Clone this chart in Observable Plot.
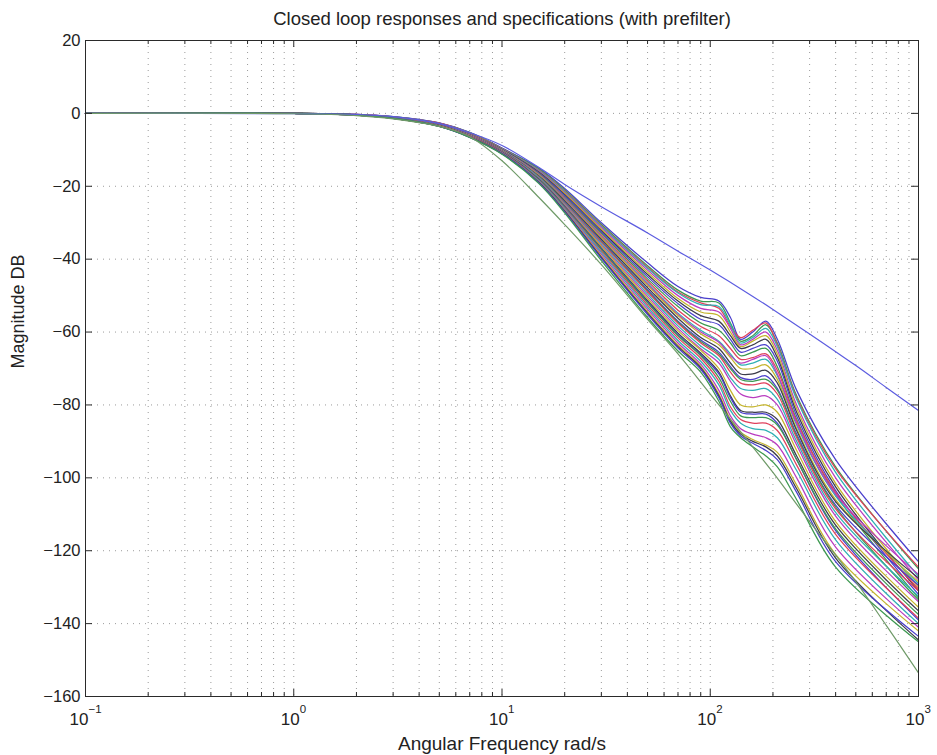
<!DOCTYPE html>
<html><head><meta charset="utf-8">
<script src="https://cdn.jsdelivr.net/npm/d3@7"></script>
<script src="https://cdn.jsdelivr.net/npm/@observablehq/plot@0.6"></script>
<style>body{margin:0;background:#fff;} #chart{width:937px;height:755px;}</style>
</head><body><div id="chart"></div>
<script>
// ---------- data ----------
const freq = [0.1, 1, 2, 3, 5, 7, 10, 15, 20, 30, 50, 70, 90, 110, 125, 140, 160, 185, 210, 260, 400, 1000];

// closed-loop responses (dB) at freq
const r01 = [0, 0, -0.3, -0.9, -2.6, -5.2, -9.5, -15.0, -20.6, -30.0, -41.0, -47.5, -50.5, -51.5, -56.0, -62.0, -60.0, -57.0, -62.0, -76.0, -95.0, -123.0];
const r02 = [0, 0, -0.3, -0.9, -2.7, -5.3, -9.6, -15.2, -21.0, -30.5, -41.8, -48.5, -51.5, -52.0, -57.5, -62.5, -61.0, -58.0, -63.0, -77.5, -97.0, -125.0];
const r03 = [0, 0, -0.3, -1.0, -2.7, -5.4, -9.7, -15.5, -21.3, -30.8, -42.2, -49.0, -52.0, -53.5, -58.5, -61.5, -59.5, -57.5, -63.5, -78.0, -97.5, -124.5];
const r04 = [0, 0, -0.3, -1.0, -2.8, -5.4, -9.8, -15.6, -21.5, -31.0, -42.5, -49.3, -52.5, -53.0, -58.0, -63.0, -61.5, -59.0, -64.0, -78.5, -98.5, -127.0];
const r05 = [0, 0, -0.3, -1.0, -2.8, -5.5, -9.8, -15.8, -21.8, -31.4, -43.0, -50.0, -53.5, -54.5, -59.0, -63.5, -62.0, -60.0, -65.0, -80.0, -100.0, -128.0];
const r06 = [0, 0, -0.4, -1.0, -2.9, -5.5, -9.9, -16.0, -22.0, -31.8, -43.6, -50.8, -54.5, -55.5, -60.0, -64.0, -62.5, -61.0, -66.0, -81.0, -101.5, -130.0];
const r07 = [0, 0, -0.4, -1.0, -2.9, -5.6, -9.9, -16.1, -22.3, -32.2, -44.2, -51.5, -55.5, -57.0, -61.0, -64.5, -63.5, -62.0, -67.0, -82.0, -102.5, -131.0];
const r08 = [0, 0, -0.4, -1.1, -2.9, -5.6, -10.0, -16.3, -22.6, -32.6, -44.8, -52.2, -56.5, -58.0, -62.0, -65.5, -64.5, -63.5, -68.0, -83.0, -103.5, -132.0];
const r09 = [0, 0, -0.4, -1.1, -3.0, -5.7, -10.0, -16.5, -23.0, -33.0, -45.4, -53.0, -57.5, -59.5, -63.0, -66.5, -65.5, -64.5, -69.5, -84.0, -104.5, -133.0];
const r10 = [0, 0, -0.4, -1.1, -3.0, -5.7, -10.1, -16.6, -23.2, -33.4, -46.0, -54.0, -58.5, -61.0, -64.5, -67.5, -67.0, -66.0, -70.5, -84.5, -104.0, -130.5];
const r11 = [0, 0, -0.4, -1.1, -3.0, -5.8, -10.1, -16.8, -23.4, -33.8, -46.6, -54.8, -59.5, -62.5, -66.0, -69.0, -68.5, -67.5, -72.0, -85.5, -105.0, -129.0];
const r12 = [0, 0, -0.4, -1.1, -3.0, -5.8, -10.2, -16.9, -23.6, -34.0, -46.9, -55.2, -60.0, -62.8, -66.5, -68.5, -67.5, -66.5, -71.5, -85.0, -104.5, -126.5];
const r13 = [0, 0, -0.4, -1.1, -3.1, -5.8, -10.2, -17.0, -23.8, -34.2, -47.2, -55.5, -60.5, -63.5, -67.0, -70.0, -70.0, -69.0, -73.0, -86.5, -106.0, -128.5];
const r14 = [0, 0, -0.4, -1.2, -3.1, -5.9, -10.3, -17.2, -24.0, -34.6, -47.8, -56.2, -61.5, -64.5, -68.5, -71.5, -71.5, -70.5, -74.0, -87.0, -106.5, -127.5];
const r15 = [0, 0, -0.4, -1.2, -3.1, -5.9, -10.3, -17.3, -24.3, -35.0, -48.4, -57.0, -62.2, -65.5, -69.5, -72.5, -73.0, -72.0, -75.5, -88.0, -107.5, -129.5];
const r16 = [0, 0, -0.4, -1.2, -3.2, -6.0, -10.4, -17.4, -24.5, -35.2, -48.7, -57.3, -62.6, -66.0, -70.0, -73.0, -73.5, -73.0, -76.0, -88.5, -108.0, -133.5];
const r17 = [0, 0, -0.4, -1.2, -3.2, -6.0, -10.4, -17.5, -24.7, -35.4, -49.0, -57.6, -63.0, -66.5, -71.0, -74.0, -74.5, -74.0, -77.0, -89.0, -108.5, -131.0];
const r18 = [0, 0, -0.4, -1.2, -3.2, -6.0, -10.5, -17.6, -24.9, -35.8, -49.6, -58.3, -63.8, -67.5, -72.5, -75.5, -76.0, -75.5, -78.5, -90.0, -109.5, -132.5];
const r19 = [0, 0, -0.4, -1.2, -3.3, -6.1, -10.5, -17.8, -25.1, -36.2, -50.2, -59.0, -64.6, -68.5, -73.5, -77.0, -78.0, -77.5, -80.0, -91.0, -110.5, -134.0];
const r20 = [0, 0, -0.4, -1.3, -3.3, -6.1, -10.6, -17.9, -25.3, -36.5, -50.8, -59.6, -65.0, -70.0, -76.0, -80.0, -80.5, -80.0, -82.0, -92.5, -112.0, -135.5];
const r21 = [0, 0, -0.4, -1.3, -3.3, -6.2, -10.6, -18.0, -25.5, -37.0, -51.4, -60.3, -65.8, -71.0, -77.5, -81.5, -82.0, -82.0, -84.0, -94.0, -113.0, -136.5];
const r22 = [0, 0, -0.4, -1.3, -3.4, -6.2, -10.7, -18.1, -25.6, -37.2, -51.7, -60.7, -66.2, -71.5, -78.0, -82.0, -82.5, -82.5, -85.0, -95.0, -114.5, -139.0];
const r23 = [0, 0, -0.4, -1.3, -3.4, -6.3, -10.7, -18.2, -25.8, -37.4, -52.0, -61.0, -66.5, -72.5, -79.0, -83.0, -83.5, -83.5, -85.5, -95.0, -114.0, -137.5];
const r24 = [0, 0, -0.5, -1.3, -3.4, -6.3, -10.8, -18.4, -26.0, -37.8, -52.6, -61.6, -67.2, -73.5, -80.5, -84.0, -85.0, -85.0, -87.0, -96.5, -115.5, -138.5];
const r25 = [0, 0, -0.5, -1.3, -3.5, -6.4, -10.9, -18.5, -26.2, -38.2, -53.2, -62.3, -68.0, -74.5, -81.5, -85.0, -86.5, -87.0, -89.0, -98.0, -117.0, -140.0];
const r26 = [0, 0, -0.5, -1.4, -3.5, -6.4, -10.9, -18.7, -26.5, -38.7, -53.8, -63.0, -68.8, -76.0, -83.0, -86.5, -88.0, -89.0, -91.0, -100.0, -119.0, -141.0];
const r27 = [0, 0, -0.5, -1.4, -3.5, -6.5, -11.0, -18.8, -26.7, -39.2, -54.4, -63.6, -69.4, -77.0, -84.0, -87.5, -89.5, -91.0, -93.0, -102.0, -121.0, -142.0];
const r28 = [0, 0, -0.5, -1.4, -3.6, -6.5, -11.0, -18.9, -26.8, -39.5, -54.8, -64.0, -69.8, -77.5, -84.5, -88.0, -90.0, -91.5, -94.0, -103.0, -122.0, -144.5];
const r29 = [0, 0, -0.5, -1.4, -3.6, -6.6, -11.1, -19.0, -27.0, -39.8, -55.2, -64.4, -70.2, -78.0, -85.0, -88.5, -90.5, -92.5, -95.0, -104.0, -123.0, -143.5];
const r30 = [0, 0, -0.5, -1.4, -3.6, -6.6, -11.2, -19.2, -27.3, -40.4, -56.0, -65.2, -71.0, -79.0, -86.0, -89.0, -91.5, -94.0, -97.0, -106.0, -124.5, -145.0];
const responses = [r01, r02, r03, r04, r05, r06, r07, r08, r09, r10, r11, r12, r13, r14, r15,
                   r16, r17, r18, r19, r20, r21, r22, r23, r24, r25, r26, r27, r28, r29, r30];

// specification bounds
const specFreq  = [0.1, 1, 2, 3, 5, 7, 10, 15, 20, 30, 50, 70, 100, 150, 200, 300, 500, 700, 1000];
const specUpper = [0, -0.1, -0.3, -0.9, -2.8, -5.3, -8.8, -14.8, -19.5, -25.6, -32.8, -37.8, -43.0, -49.2, -53.8, -60.5, -69.2, -75.2, -81.5];
const specLower = [0, -0.1, -0.6, -1.5, -3.6, -6.4, -13.0, -23.0, -30.5, -41.5, -56.5, -66.0, -77.0, -89.5, -98.5, -112.0, -128.5, -140.5, -153.5];

// axes
const yTicks = [-160, -140, -120, -100, -80, -60, -40, -20, 0, 20];
const decadeTicks = [0.1, 1, 10, 100, 1000];
const decadeExp = ["−1", "0", "1", "2", "3"];
const minorTicks = [0.2, 0.3, 0.4, 0.5, 0.6, 0.7, 0.8, 0.9,
                    2, 3, 4, 5, 6, 7, 8, 9,
                    20, 30, 40, 50, 60, 70, 80, 90,
                    200, 300, 400, 500, 600, 700, 800, 900];

const titleText = "Closed loop responses and specifications (with prefilter)";
const xLabel = "Angular Frequency rad/s";
const yLabel = "Magnitude DB";

// ---------- styling ----------
const palette = ["#4a3fcc", "#3d9950", "#e0405c", "#2fb0b4", "#b93cc0", "#c4b42c", "#3c3c4a"];
const W = 937, H = 755;
const mL = 85, mR = 19, mT = 40, mB = 59;
const innerW = W - mL - mR, innerH = H - mT - mB;
const gridStyle = {stroke: "#8a8a8a", strokeWidth: 1, strokeDasharray: "1,5", strokeOpacity: 0.85};
const axisColor = "#2a2a2a";

const marks = [
  Plot.ruleX([...decadeTicks.slice(1, -1), ...minorTicks], gridStyle),
  Plot.ruleY(yTicks.slice(1, -1), gridStyle),
];
responses.forEach((r, i) => {
  marks.push(Plot.line(freq.map((w, j) => ({w, db: r[j]})),
    {x: "w", y: "db", stroke: palette[i % palette.length], strokeWidth: 1.25, curve: "catmull-rom"}));
});
marks.push(Plot.line(specFreq.map((w, j) => ({w, db: specUpper[j]})),
  {x: "w", y: "db", stroke: "#5c5ce0", strokeWidth: 1.2, curve: "catmull-rom"}));
marks.push(Plot.line(specFreq.map((w, j) => ({w, db: specLower[j]})),
  {x: "w", y: "db", stroke: "#6f9a68", strokeWidth: 1.2, curve: "catmull-rom"}));

// frame + inward ticks on all sides
marks.push(Plot.frame({stroke: axisColor, strokeWidth: 1}));
marks.push(Plot.ruleX(decadeTicks, {stroke: axisColor, insetTop: innerH - 7}));
marks.push(Plot.ruleX(minorTicks, {stroke: axisColor, insetTop: innerH - 4}));
marks.push(Plot.ruleX(decadeTicks, {stroke: axisColor, insetBottom: innerH - 7}));
marks.push(Plot.ruleX(minorTicks, {stroke: axisColor, insetBottom: innerH - 4}));
marks.push(Plot.ruleY(yTicks, {stroke: axisColor, insetRight: innerW - 7}));
marks.push(Plot.ruleY(yTicks, {stroke: axisColor, insetLeft: innerW - 7}));

// x tick labels 10^k
decadeTicks.forEach((t, i) => {
  const e = decadeExp[i];
  const off = e.length > 1 ? 3 : 6;
  marks.push(Plot.text([t], {x: d => d, text: () => "10", frameAnchor: "bottom", dy: 23,
    textAnchor: "end", dx: off, fontSize: 17, lineAnchor: "middle", fill: "#222"}));
  marks.push(Plot.text([t], {x: d => d, text: () => e, frameAnchor: "bottom", dy: 13,
    textAnchor: "start", dx: off, fontSize: 11.5, lineAnchor: "middle", fill: "#222"}));
});

// title and labels
marks.push(Plot.text([titleText], {text: d => d, frameAnchor: "top", dy: -21, fontSize: 18.5, lineAnchor: "middle", fill: "#222"}));
marks.push(Plot.text([xLabel], {text: d => d, frameAnchor: "bottom", dy: 47, fontSize: 19, lineAnchor: "middle", fill: "#222"}));
marks.push(Plot.text([yLabel], {text: d => d, frameAnchor: "left", dx: -67, rotate: -90, fontSize: 18, lineAnchor: "middle", fill: "#222"}));

const chart = Plot.plot({
  width: W, height: H,
  marginLeft: mL, marginRight: mR, marginTop: mT, marginBottom: mB,
  style: {fontFamily: "'Liberation Sans', Arial, sans-serif", fontSize: "16.5px", background: "#fff", color: "#222"},
  x: {type: "log", domain: [0.1, 1000], axis: null},
  y: {domain: [-160, 20], ticks: yTicks, tickSize: 0, tickPadding: 5, label: null, tickFormat: d => d < 0 ? "−" + Math.abs(d) : String(d)},
  marks
});
document.getElementById("chart").appendChild(chart);
</script>
</body></html>
